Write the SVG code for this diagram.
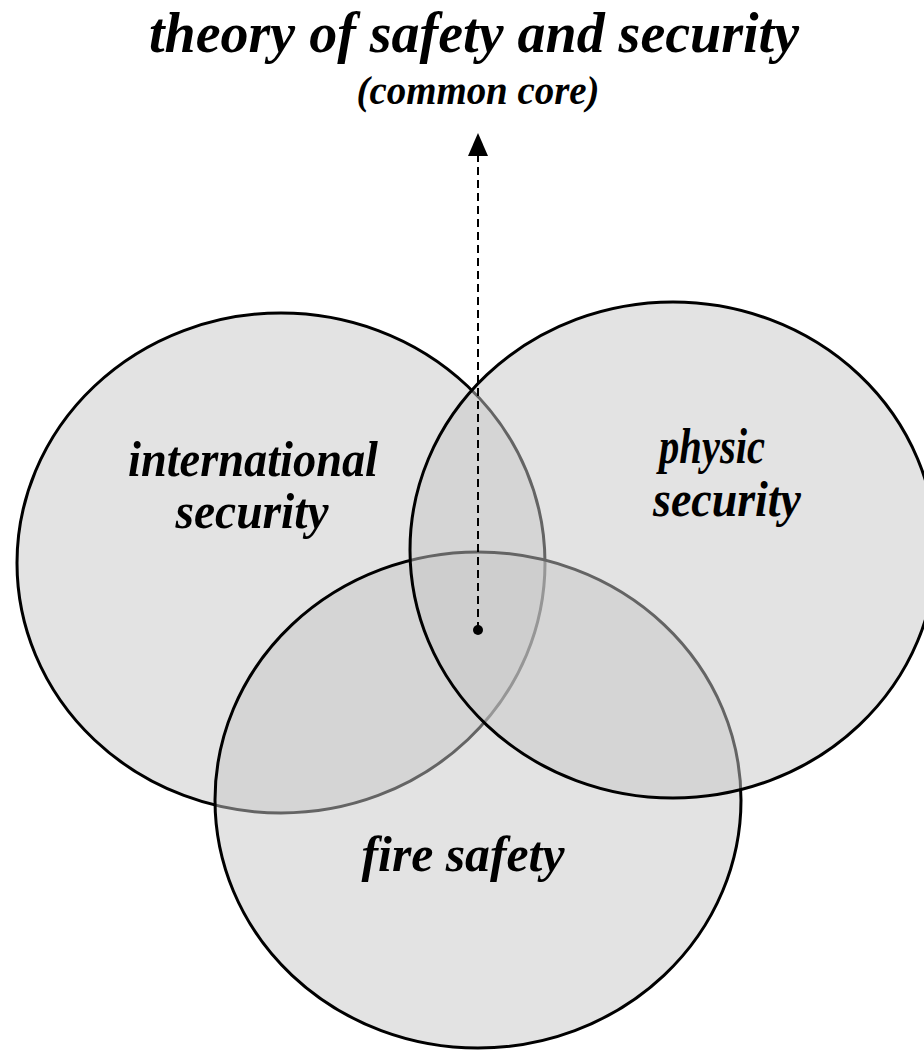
<svg xmlns="http://www.w3.org/2000/svg" width="924" height="1051" viewBox="0 0 924 1051">
  <style>
    .set { fill: #c8c8c8; fill-opacity: 0.5; stroke: #000; stroke-width: 3; }
    .lbl { font-family: "Liberation Serif", "Times New Roman", serif; font-weight: bold; font-style: italic; fill: #000; text-anchor: middle; }
  </style>
  <rect width="924" height="1051" fill="#fff"/>
  <g id="title">
    <text class="lbl" x="474" y="52" font-size="56" textLength="650" lengthAdjust="spacingAndGlyphs">theory of safety and security</text>
    <text class="lbl" x="478" y="104" font-size="40" textLength="243" lengthAdjust="spacingAndGlyphs">(common core)</text>
  </g>
  <g id="international-security">
    <ellipse class="set" cx="281" cy="563" rx="264" ry="250"/>
    <text class="lbl" x="253" y="476" font-size="50" textLength="250" lengthAdjust="spacingAndGlyphs">international</text>
    <text class="lbl" x="252" y="528" font-size="50" textLength="153" lengthAdjust="spacingAndGlyphs">security</text>
  </g>
  <g id="fire-safety">
    <ellipse class="set" cx="478" cy="800" rx="263" ry="248"/>
    <text class="lbl" x="463" y="871" font-size="50" textLength="203" lengthAdjust="spacingAndGlyphs">fire safety</text>
  </g>
  <g id="physic-security">
    <ellipse class="set" cx="673" cy="550" rx="263" ry="248"/>
    <text class="lbl" x="712" y="463" font-size="50" textLength="106" lengthAdjust="spacingAndGlyphs">physic</text>
    <text class="lbl" x="727" y="516" font-size="50" textLength="148" lengthAdjust="spacingAndGlyphs">security</text>
  </g>
  <g id="connectors">
    <line x1="478" y1="630" x2="478" y2="155" stroke="#000" stroke-width="2" stroke-dasharray="8,5"/>
    <path d="M478,133 L488,156 L468,156 Z" fill="#000"/>
    <circle cx="478" cy="630" r="5" fill="#000"/>
  </g>
</svg>
